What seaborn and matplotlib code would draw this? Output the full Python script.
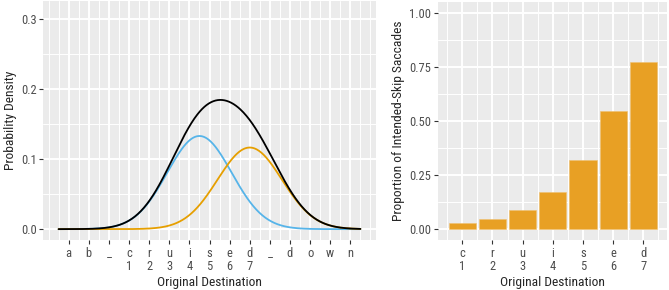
import numpy as np
import pandas as pd
import matplotlib.pyplot as plt
import seaborn as sns
from matplotlib.ticker import MultipleLocator

# Left panel: letter positions of "ab cruised down"
letter_labels = ['a', 'b', '_', 'c\n1', 'r\n2', 'u\n3', 'i\n4', 's\n5',
                 'e\n6', 'd\n7', '_', 'd', 'o', 'w', 'n']
letter_pos = list(range(-2, 13))

# Mixture components (mean, sd, weight)
comp_names = ['blue', 'orange']
comp_means = [4.5, 7.0]
comp_sds = [1.6, 1.6]
comp_weights = [0.533, 0.467]
comp_colors = ['#56B4E9', '#E69F00']

# Right panel: proportion of intended-skip saccades
bar_labels = ['c\n1', 'r\n2', 'u\n3', 'i\n4', 's\n5', 'e\n6', 'd\n7']
bar_pos = [1, 2, 3, 4, 5, 6, 7]
skip_prop = [0.028, 0.047, 0.088, 0.170, 0.322, 0.548, 0.772]

sns.set_theme(style='darkgrid')
plt.rcParams['font.family'] = ['Roboto Condensed', 'DejaVu Sans']
plt.rcParams['axes.facecolor'] = '#EBEBEB'

fig = plt.figure(figsize=(6.69, 2.90), dpi=100)
W, H = 669, 290
ax1 = fig.add_axes([43.5 / W, 1 - 240 / H, (375.5 - 43.5) / W, 239 / H])
ax2 = fig.add_axes([438.3 / W, 1 - 240 / H, (667.3 - 438.3) / W, 238 / H])

# densities of the two components and their sum
x = np.linspace(-2.5, 12.5, 401)
rows = []
total = np.zeros_like(x)
for name, m, s, w in zip(comp_names, comp_means, comp_sds, comp_weights):
    d = w * np.exp(-0.5 * ((x - m) / s) ** 2) / (s * np.sqrt(2 * np.pi))
    total = total + d
    rows.append(pd.DataFrame({'x': x, 'y': d, 'comp': name}))
dens = pd.concat(rows)

sns.lineplot(data=dens, x='x', y='y', hue='comp', palette=comp_colors,
             linewidth=1.3, legend=False, ax=ax1)
sns.lineplot(x=x, y=total, color='black', linewidth=1.3, ax=ax1)

ax1.set_xlim(-3.25, 13.25)
ax1.set_ylim(-0.0155, 0.3255)
ax1.set_xticks(letter_pos)
ax1.set_xticklabels(letter_labels)
ax1.set_yticks([0.0, 0.1, 0.2, 0.3])
ax1.set_yticklabels(['0.0', '0.1', '0.2', '0.3'])
ax1.xaxis.set_minor_locator(MultipleLocator(0.5))
ax1.yaxis.set_minor_locator(MultipleLocator(0.05))
ax1.set_xlabel('Original Destination', fontsize=9.7, labelpad=2)
ax1.set_ylabel('Probability Density', fontsize=9.7, labelpad=3)

sns.barplot(x=bar_pos, y=skip_prop, native_scale=True, width=0.9,
            color='#E8A024', saturation=1, edgecolor='#F0C070', linewidth=0.4,
            ax=ax2)
ax2.set_xlim(0.205, 7.795)
ax2.set_ylim(-0.05, 1.05)
ax2.set_xticks(bar_pos)
ax2.set_xticklabels(bar_labels)
ax2.set_yticks([0.0, 0.25, 0.5, 0.75, 1.0])
ax2.set_yticklabels(['0.00', '0.25', '0.50', '0.75', '1.00'])
ax2.xaxis.set_minor_locator(MultipleLocator(0.5))
ax2.yaxis.set_minor_locator(MultipleLocator(0.125))
ax2.set_xlabel('Original Destination', fontsize=9.7, labelpad=2)
ax2.set_ylabel('Proportion of Intended-Skip Saccades', fontsize=9.7, labelpad=3)

for ax in (ax1, ax2):
    ax.set_axisbelow(True)
    ax.grid(which='major', color='white', linewidth=1.4)
    ax.grid(which='minor', color='white', linewidth=0.7)
    for sp in ax.spines.values():
        sp.set_visible(False)
    ax.tick_params(which='major', length=3, width=0.8, color='#333333',
                   labelsize=9, labelcolor='#4D4D4D', pad=2,
                   bottom=True, left=True)
    ax.tick_params(which='minor', length=0, bottom=False, left=False)
    for lab in ax.get_xticklabels():
        lab.set_linespacing(1.05)

fig.savefig('out.png', dpi=100)
